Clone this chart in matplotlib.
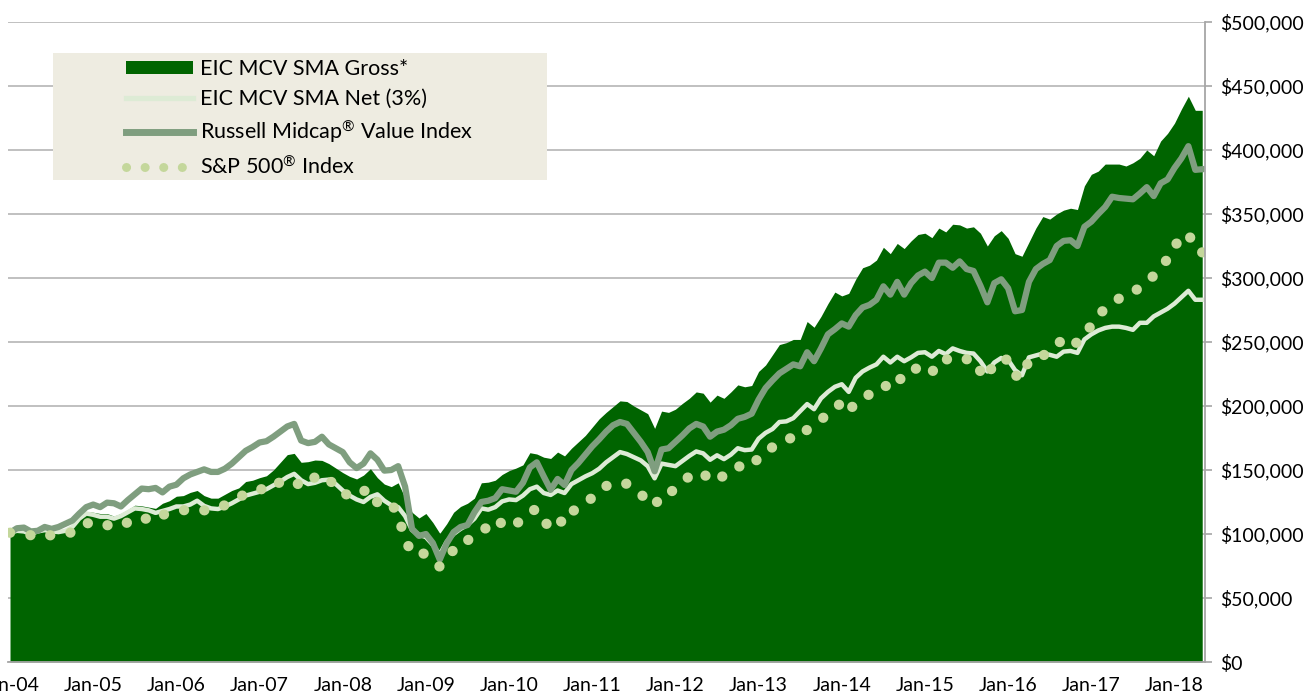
"""Growth of $100,000: EIC MCV SMA vs Russell Midcap Value and S&P 500, Jan-04 to 2018."""

import numpy as np
import matplotlib.pyplot as plt
from matplotlib.patches import Rectangle
from matplotlib.lines import Line2D
from matplotlib.ticker import FuncFormatter

# monthly values in $ thousands, Jan-04 onwards
gross = [100, 102, 102, 99.5, 101, 103, 101.5, 101, 103.5, 107,
         113, 117.5, 117, 116, 116, 114, 116, 119, 122.5, 122,
         121, 120, 124, 126, 129.5, 130, 132.5, 134, 130, 128,
         128, 131, 134, 136, 141, 142, 144, 145.5, 150, 156,
         162, 163, 156, 156.5, 157.8, 157.5, 155, 151.5, 148, 145,
         143, 146, 151, 144, 139, 137, 140, 128, 117, 112.5,
         116, 109, 100.5, 108, 117, 121.5, 124, 128, 140, 140.5,
         142, 146.5, 149.5, 151.5, 154, 163.5, 162.5, 160, 159, 164,
         161, 167, 172, 177, 183.5, 190, 195, 199.5, 204, 203.5,
         200, 197, 194, 182.5, 196, 195, 197.5, 202, 206, 211,
         210, 203, 208.5, 206, 211, 216.5, 215, 216, 227, 232,
         240, 248, 249.5, 252, 252, 266, 261.5, 270, 280, 289,
         286, 288, 299, 308, 310, 314, 324, 319, 327, 323,
         329, 334, 335, 331.5, 339, 336, 342, 341.5, 339, 340,
         335, 325, 333, 337, 331, 319, 317, 328, 339, 348,
         346, 350, 353, 354.5, 353.5, 372, 381, 383.5, 389, 389,
         389, 387.5, 390, 393.5, 400, 395.5, 407, 413, 421, 432,
         442, 431, 431]

net = [101, 102.5, 102, 100, 102, 103, 102, 101.5, 102.5, 105.5,
       112, 116, 115, 113.5, 113.5, 112, 114, 117, 120, 119.5,
       118.5, 116.5, 118, 119.5, 121.5, 121.5, 123, 126, 122, 120,
       119.5, 121.5, 124, 127, 130, 131.5, 133, 135, 138, 141,
       144.5, 147, 142, 139, 140, 142, 142.5, 139, 134, 130,
       127, 125, 129, 131, 126, 122.5, 121, 114, 103, 99.5,
       97.5, 91.5, 84, 94, 100, 104, 107, 112, 120, 119,
       121, 125.5, 127, 126.5, 130, 135, 137, 132, 130.5, 134,
       132, 139, 142, 145, 147.5, 151, 156, 160, 164, 162.5,
       160, 157.5, 153, 143.5, 155, 154, 153, 157, 161, 164.5,
       163, 158, 161.5, 158.5, 162, 167, 165.5, 166, 174.5, 179,
       182, 187.5, 188, 190.5, 196, 201.5, 197.5, 206, 211, 215,
       217, 211, 222, 227, 230, 232.5, 238.5, 234, 238.5, 235,
       238, 241.5, 242, 238.5, 243, 240.5, 245, 243, 241.5, 241,
       235, 227, 234, 237.5, 236, 228, 224, 238, 239.5, 241,
       240, 238.5, 242.5, 243, 241.5, 252, 256, 259, 261, 262,
       262, 261, 259.5, 265, 265, 270, 273, 276, 280, 285,
       290, 283, 283]

russell = [101, 104.5, 105, 102, 102.5, 105.5, 104, 105.5, 108, 110.5,
           116, 121, 123, 121, 124.5, 124, 121.5, 126.5, 131, 135.5,
           135, 136, 132.5, 137, 138.5, 143.5, 146.5, 148.5, 150.5, 148.5,
           148.5, 151, 155, 160, 165, 168, 171.5, 172.5, 176, 180,
           184, 186, 173, 171, 172, 176, 170, 167, 164, 156,
           151.5, 155, 163, 158, 149.5, 150, 153, 137, 104, 98.5,
           100, 93, 80, 92.7, 101.5, 105.5, 107, 117, 125, 126,
           128, 135, 134, 133, 140, 152, 156, 145, 134.5, 143,
           138.3, 150, 155.5, 162, 168.5, 174, 180, 185, 187.5, 186,
           179, 172, 164, 149, 166, 167, 172, 177, 182.5, 186,
           184, 176, 180, 181.5, 185, 190, 191.5, 194, 205, 214,
           220, 225.5, 229, 232.5, 231, 242, 235, 245, 256, 260,
           264.5, 262, 271, 277, 279, 283, 293.5, 287, 297, 287,
           296, 302, 305, 300, 312, 312, 308, 313, 307, 305.5,
           294, 281, 296, 299, 292, 274, 275, 297, 307, 311,
           314, 325, 329, 329.5, 325, 340, 344, 350, 355.5, 363.5,
           362.5, 362, 361.5, 366, 371, 364, 374, 377, 386, 393.5,
           403, 384.5, 385]

sp500 = [101, 100.5, 100.5, 99, 99.5, 101, 98.5, 99, 100, 101.5,
         105.5, 109, 106.5, 108, 107, 105, 107.5, 109, 112, 110.5,
         113, 111, 115, 116, 118, 118.5, 119.5, 120, 118.5, 118.5,
         120.5, 122.5, 125.5, 129, 131, 133.5, 135.5, 133.5, 138, 140.5,
         142.5, 141.5, 137, 139, 144.5, 146.5, 141, 140, 132, 130,
         129, 133.5, 135, 124.5, 123, 124.5, 114, 96, 84.5, 86,
         84, 78, 74.5, 82, 87.5, 88, 95, 98.5, 102, 106,
         103, 110, 112, 108, 111.5, 117.5, 119.5, 110, 105, 111.5,
         108, 117.5, 120, 124, 128.5, 131.5, 137.5, 139, 137.5, 139.5,
         135, 131.5, 125, 122, 131, 131, 136, 141, 145, 148,
         148, 141, 143, 145.5, 151, 153, 152, 152.5, 160, 162,
         168, 170, 172, 177, 176, 181.5, 186, 190, 192.5, 198,
         203, 196, 202.5, 207, 209, 212, 216.5, 214, 222, 220,
         225, 231, 229, 226, 236, 236, 238.5, 237, 236.5, 237,
         227, 221.5, 235, 235.5, 236.5, 224, 222, 236, 238, 239,
         244, 247, 253.5, 249, 249.5, 256, 263, 271, 276, 280,
         284, 285, 289, 292.5, 296, 302, 308, 315, 326, 329,
         335, 322, 320]

years = list(range(2004, 2019))
tick_labels = ['Jan-%02d' % (y % 100) for y in years]
series_names = ['EIC MCV SMA Gross*', 'EIC MCV SMA Net (3%)',
                r'Russell Midcap$^{\circledR}$ Value Index', r'S&P 500$^{\circledR}$ Index']

# styling
c_gross = '#006400'
c_net = '#DDEBD5'
c_russell = '#7F9E7F'
c_sp = '#C4D79B'
c_grid = '#C0C0C0'
c_axis = '#A6A6A6'

plt.rcParams['font.family'] = ['Lato', 'DejaVu Sans']
plt.rcParams['font.size'] = 14
plt.rcParams['mathtext.fontset'] = 'custom'
plt.rcParams['mathtext.rm'] = 'Lato'
plt.rcParams['mathtext.it'] = 'Lato'

W, H = 1308, 699
fig = plt.figure(figsize=(W / 100, H / 100), dpi=100)
ax = fig.add_axes([8 / W, 1 - 662 / H, (1205 - 8) / W, (662 - 22) / H])

months = np.arange(len(gross))
sp_dots = (0, (0.01, 2.0))

ax.fill_between(months, gross, color=c_gross, lw=0, zorder=2)
ax.plot(months, net, color=c_net, lw=3.2, solid_joinstyle='round', zorder=3)
ax.plot(months, russell, color=c_russell, lw=4.5, solid_joinstyle='round', zorder=4)
ax.plot(months, sp500, color=c_sp, lw=7.4, ls=sp_dots, dash_capstyle='round', zorder=5)

# axes
ax.set_xlim(-0.29, 172.4)
ax.set_ylim(0, 500)
ax.set_yticks(np.arange(0, 501, 50))
ax.yaxis.set_major_formatter(FuncFormatter(lambda v, _: '${:,.0f}'.format(v * 1000)))
ax.yaxis.tick_right()
ax.set_xticks(np.arange(0, len(years) * 12, 12))
ax.set_xticklabels(tick_labels)
ax.tick_params(axis='x', length=0, pad=11)
ax.tick_params(axis='y', length=5, width=1.2, color=c_axis, pad=6, labelsize=14)
ax.grid(axis='y', color=c_grid, lw=1.4, zorder=0)
ax.set_axisbelow(True)
for side in ['top', 'left']:
    ax.spines[side].set_visible(False)
for side in ['right', 'bottom']:
    ax.spines[side].set_color(c_axis)
    ax.spines[side].set_linewidth(1.3)
    ax.spines[side].set_zorder(6)

# legend box + entries
box = Rectangle((53 / W, 1 - 180 / H), (547 - 53) / W, (180 - 53) / H,
                transform=fig.transFigure, facecolor='#EEECE1', edgecolor='none', zorder=7)
ax.add_patch(box)
handles = [Rectangle((0, 0), 1, 1, facecolor=c_gross, edgecolor='none'),
           Line2D([], [], color=c_net, lw=3.8),
           Line2D([], [], color=c_russell, lw=5),
           Line2D([], [], color=c_sp, lw=6.5, ls=(0, (0.01, 2.05)), dash_capstyle='round')]
leg = ax.legend(handles, series_names, loc='upper left',
                bbox_to_anchor=(126 / W, 1 - 59 / H), bbox_transform=fig.transFigure,
                frameon=False, borderpad=0, borderaxespad=0, handlelength=3.1,
                handleheight=0.55, handletextpad=0.33, labelspacing=0.45, fontsize=15.5)
leg.set_zorder(8)

fig.savefig('out.png', dpi=100)
